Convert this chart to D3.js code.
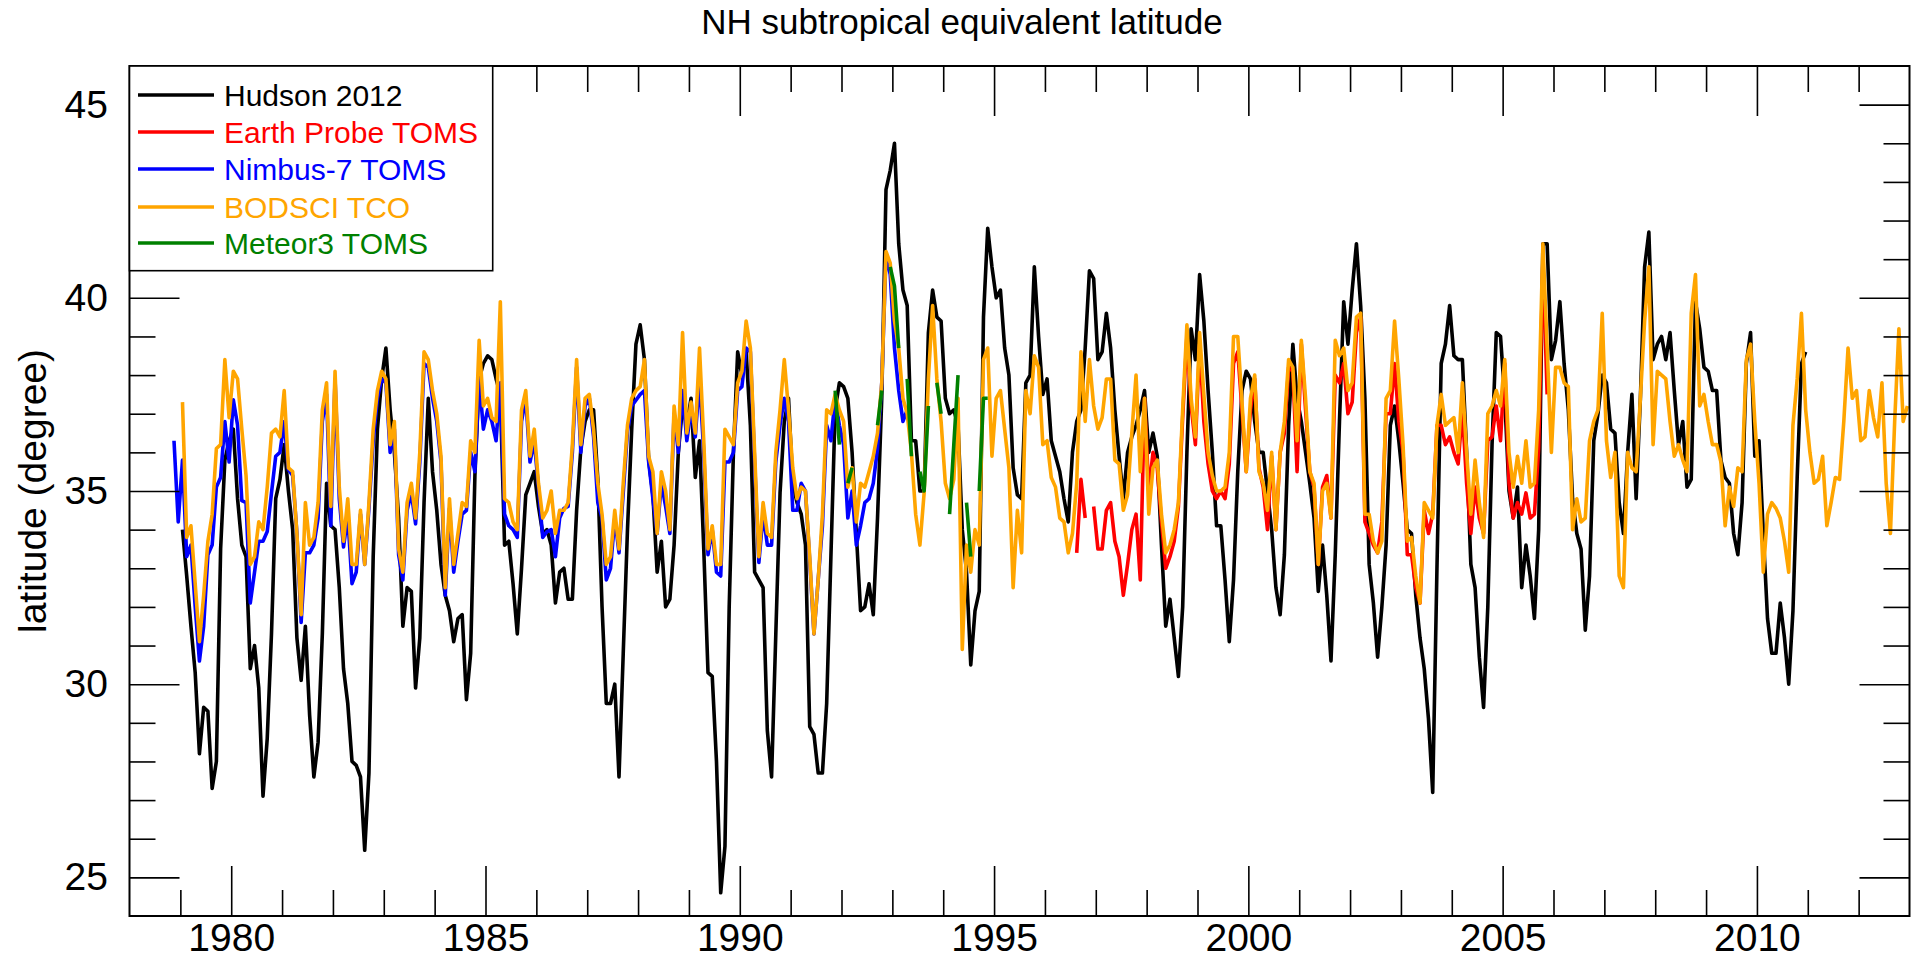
<!DOCTYPE html>
<html>
<head>
<meta charset="utf-8">
<script src="https://cdn.jsdelivr.net/npm/d3@7"></script>
<style>
html,body{margin:0;padding:0;background:#fff;}
svg{display:block;}
</style>
</head>
<body>
<svg id="chart" width="1914" height="961"></svg>
<script>
// ---------------- DATA ----------------
const titleText = "NH subtropical equivalent latitude";
const yAxisLabel = "latitude (degree)";
const xMajorTicks = [1980, 1985, 1990, 1995, 2000, 2005, 2010];
const xMinorTicks = [1979,1981,1982,1983,1984,1986,1987,1988,1989,1991,1992,1993,1994,1996,1997,1998,1999,2001,2002,2003,2004,2006,2007,2008,2009,2011,2012];
const yMajorTicks = [25, 30, 35, 40, 45];
const yMinorTicks = [26,27,28,29,31,32,33,34,36,37,38,39,41,42,43,44];
const seriesNames = ["Hudson 2012", "Earth Probe TOMS", "Nimbus-7 TOMS", "BODSCI TCO", "Meteor3 TOMS"];
const seriesColors = ["#000000", "#ff0000", "#0000ff", "#ffa500", "#008000"];

// Hudson 2012, monthly from Jan 1979
const hudsonStart = [1979, 1];
const hudson = [
34.0,32.8,31.5,30.3,28.2,29.4,29.3,27.3,28.0,33.5,35.8,36.3,
36.6,34.8,33.6,33.3,30.4,31.0,29.9,27.1,28.6,31.3,34.8,35.3,
36.2,35.0,34.0,31.2,30.1,31.5,29.2,27.6,28.5,31.3,35.2,34.1,
34.0,32.5,30.4,29.5,28.0,27.9,27.6,25.7,27.7,33.3,36.6,37.9,
38.7,37.1,36.0,34.3,31.5,32.5,32.4,29.9,31.2,34.7,37.4,35.5,
34.5,33.1,32.3,31.9,31.1,31.7,31.8,29.6,30.8,35.4,37.9,38.3,
38.5,38.4,37.9,37.5,33.6,33.7,32.6,31.3,33.0,34.9,35.2,35.5,
34.6,33.9,34.0,33.6,32.1,32.9,33.0,32.2,32.2,34.5,36.1,36.8,
37.1,37.1,35.3,32.0,29.5,29.5,30.0,27.6,30.8,34.0,36.6,38.8,
39.3,38.4,35.8,34.9,32.9,33.7,32.0,32.2,33.6,36.0,37.2,36.7,
37.4,35.35,36.3,33.5,30.3,30.2,28.0,24.6,25.8,32.0,36.0,38.6,
38.0,38.6,36.7,32.9,32.7,32.5,28.8,27.6,31.3,34.95,36.8,37.4,
35.2,34.7,34.4,33.6,28.9,28.7,27.7,27.7,29.5,33.3,37.1,37.8,
37.7,37.4,36.0,33.9,31.9,32.0,32.6,31.8,34.3,37.4,42.8,43.3,
44.0,41.4,40.2,39.8,36.3,36.3,35.0,35.0,39.1,40.2,39.5,39.4,
37.4,37.0,37.1,36.7,34.0,32.9,30.5,31.9,32.4,39.5,41.8,40.8,
40.0,40.2,38.7,38.0,35.6,34.9,34.8,37.8,38.0,40.8,39.0,37.5,
37.9,36.3,35.9,35.5,34.8,34.2,36.0,36.8,37.1,38.7,40.7,40.5,
38.4,38.6,39.6,38.7,37.1,35.9,34.8,36.0,36.4,36.7,37.1,37.6,
36.0,36.5,35.9,33.6,31.5,32.2,31.2,30.2,32.0,36.0,39.2,38.4,
40.6,39.4,37.6,36.0,34.1,34.1,32.7,31.1,32.7,35.5,37.6,38.1,
37.9,36.8,36.0,36.0,35.0,34.0,32.5,31.8,33.35,36.7,38.8,37.4,
36.8,36.0,35.2,34.3,32.4,33.6,32.3,30.6,33.35,36.8,39.9,38.8,
40.2,41.4,39.8,37.4,33.1,32.1,30.7,32.0,33.6,36.7,37.2,36.3,
35.2,34.0,33.9,32.3,31.2,30.4,29.1,27.2,33.0,38.3,38.8,39.8,
38.5,38.4,38.4,36.0,33.1,32.5,30.7,29.4,32.0,36.2,39.1,39.0,
37.4,35.0,34.3,35.1,32.5,33.6,32.8,31.7,34.0,41.4,41.4,38.4,
38.9,39.9,38.3,37.1,34.8,33.9,33.5,31.4,32.8,36.3,37.0,38.0,
37.8,36.6,36.5,34.7,33.9,36.0,37.5,34.8,37.4,40.8,41.7,38.4,
38.8,39.0,38.4,39.1,37.6,36.2,36.8,35.1,35.3,39.9,39.2,38.2,
38.1,37.6,37.6,35.8,35.35,35.2,33.9,33.35,34.7,38.3,39.1,35.9,
36.3,33.9,31.7,30.8,30.8,32.1,31.2,30.0,31.9,35.35,38.3,38.6
];

// Earth Probe TOMS, monthly from Aug 1996 (null = gap)
const earthProbeStart = [1996, 8];
const earthProbe = [
33.4,35.3,34.3,null,34.6,
33.5,33.5,34.5,34.7,33.7,33.3,32.3,33.1,34.0,34.4,32.7,37.4,
35.0,36.0,35.6,34.2,33.0,33.3,33.7,34.6,36.9,39.0,37.2,36.2,
38.8,36.8,35.7,35.0,34.8,35.0,34.8,35.7,38.3,38.6,37.1,35.5,
37.1,37.9,35.6,35.1,34.0,35.9,34.0,36.0,36.5,38.2,38.1,35.5,
38.8,37.1,35.5,35.1,33.1,35.1,35.4,34.3,38.0,37.8,38.3,37.0,
37.3,39.1,39.5,34.2,33.9,33.6,33.4,34.2,37.0,37.0,38.3,36.8,
36.0,33.35,33.35,32.5,32.1,34.5,33.9,34.4,36.7,36.7,36.2,36.4,
36.0,35.7,37.1,35.2,33.9,35.1,34.3,33.9,36.3,36.4,37.2,36.3,
38.3,35.2,34.3,34.7,34.4,34.95,34.3,34.4,36.1,41.0,37.5
];

// Nimbus-7 TOMS, monthly from Nov 1978
const nimbusStart = [1978, 11];
const nimbus = [
36.3,34.2,
35.8,33.3,33.6,32.0,30.6,31.5,33.35,33.6,35.1,35.35,36.8,35.75,
37.36,36.7,34.75,34.7,32.1,32.9,33.7,33.7,33.95,34.95,35.9,36.0,
36.8,35.55,35.4,33.9,31.6,33.4,33.4,33.6,34.3,36.8,37.5,34.1,
37.9,34.8,33.55,34.35,32.6,32.9,34.4,33.1,34.55,36.3,37.4,37.9,
37.8,36.0,36.6,33.35,32.7,34.5,34.95,34.15,35.75,38.3,38.2,37.4,
36.8,35.75,32.3,34.55,32.9,33.7,34.4,34.5,36.0,35.5,37.9,36.6,
37.1,36.8,36.3,37.8,34.4,34.1,34.0,33.8,36.8,37.4,35.75,36.3,
35.1,33.8,33.95,34.0,33.3,34.3,34.55,34.6,36.0,38.2,36.0,37.2,
37.4,36.4,34.7,34.3,32.7,33.0,34.3,33.4,34.95,36.55,37.2,37.35,
37.5,37.6,35.75,34.8,33.9,35.2,34.6,33.9,37.0,36.0,37.6,36.3,
37.1,36.4,37.9,36.0,33.35,34.0,32.9,32.8,35.75,35.75,36.0,37.6,
37.7,38.7,38.6,35.75,33.15,34.4,33.6,33.6,35.75,36.7,37.4,36.8,
34.5,34.5,35.2,35.0,33.2,31.3,32.7,34.1,36.7,36.3,37.4,36.7,
36.2,34.3,35.0,33.6,34.1,34.7,34.8,35.2,36.1,37.8,41.1,40.6,
38.7,37.6,36.8,37.1
];

// BODSCI TCO, monthly from Jan 1979
const bodsciStart = [1979, 1];
const bodsci = [
37.3,33.8,34.1,32.6,31.1,32.3,33.7,34.4,36.1,36.2,38.4,36.9,
38.1,37.9,36.6,35.4,33.1,33.3,34.2,34.0,35.1,36.5,36.6,36.4,
37.6,35.6,35.5,33.9,31.8,34.7,33.6,33.8,34.7,37.1,37.8,34.6,
38.1,35.1,33.7,34.8,33.1,33.1,34.5,33.1,34.7,36.6,37.6,38.1,
37.9,36.2,36.8,33.5,32.9,34.7,35.2,34.3,36.0,38.6,38.4,37.6,
37.0,35.9,32.5,34.8,33.1,33.9,34.7,34.6,36.3,36.0,38.9,37.2,
37.4,36.9,36.8,39.9,34.8,34.7,34.2,34.0,37.1,37.6,35.9,36.6,
35.2,34.3,34.5,35.0,33.9,34.5,34.5,34.7,36.2,38.4,36.2,37.4,
37.5,36.6,35.2,34.4,33.1,33.3,34.5,33.5,35.2,36.7,37.4,37.6,
37.7,38.4,35.9,35.5,33.9,35.5,35.0,34.0,37.2,36.2,39.1,36.5,
37.3,36.5,38.7,36.3,33.5,34.1,33.1,33.1,36.6,36.4,36.2,37.8,
38.1,39.4,38.7,36.0,33.3,34.7,33.9,33.8,36.0,37.1,38.4,37.1,
35.6,34.8,35.1,35.0,33.3,31.3,32.7,34.4,37.1,37.0,37.5,37.1,
36.8,35.1,35.6,34.2,35.2,35.1,35.5,35.9,36.5,37.8,41.2,40.9,
39.4,38.7,37.4,37.0,36.0,34.4,33.6,34.95,37.9,39.8,37.9,36.8,
35.2,34.8,35.3,37.4,30.9,33.6,32.9,34.0,33.6,38.4,38.7,35.9,
37.4,37.6,36.6,35.6,32.5,34.5,33.4,37.6,37.0,38.5,38.2,36.2,
36.3,35.35,35.1,34.3,34.2,33.4,33.9,35.2,38.6,36.8,38.4,37.2,
36.6,36.9,37.9,37.9,35.8,35.7,34.5,34.9,36.5,38.0,35.5,37.4,
34.4,35.6,35.8,34.4,33.4,33.6,34.0,34.7,37.1,39.3,37.4,36.4,
39.1,37.5,36.0,35.4,35.0,35.0,35.1,36.0,39.0,39.0,37.3,35.5,
37.4,38.0,35.5,35.2,34.5,36.0,34.0,36.0,36.8,38.4,38.2,36.3,
38.9,37.4,35.5,35.2,33.1,35.0,35.2,34.3,38.9,38.5,38.7,37.6,
37.8,39.5,39.6,34.4,34.4,33.7,33.4,33.7,37.4,37.6,39.4,37.9,
36.2,33.7,33.8,32.8,32.1,34.7,34.5,34.3,36.7,37.5,36.7,36.8,
36.9,36.0,37.8,36.0,34.4,35.8,34.7,33.8,37.0,37.2,37.6,37.2,
38.4,36.0,35.1,35.9,35.2,36.3,35.1,35.2,37.1,41.4,38.7,36.0,
38.2,38.2,37.8,37.7,34.0,34.8,34.2,34.3,36.3,36.8,37.1,39.6,
36.3,35.35,36.0,32.8,32.5,36.0,35.6,35.5,37.4,39.4,40.8,36.2,
38.1,38.0,37.9,36.8,35.9,36.2,35.8,35.5,39.6,40.6,37.2,37.5,
36.8,36.2,36.2,35.75,34.1,35.1,34.6,35.6,35.5,38.4,38.8,36.8,
35.2,32.9,34.4,34.7,34.55,34.3,33.7,32.9,36.7,37.9,39.6,37.1,
36.0,35.2,35.3,35.9,34.1,34.7,35.35,35.3,36.8,38.7,37.4,37.6,
36.3,36.4,37.6,36.9,36.4,37.8,35.2,33.9,36.8,39.2,36.8,37.2
];

// Meteor3 TOMS, monthly from Nov 1991 (null = no data)
const meteorStart = [1991, 11];
const meteor = [
37.6,36.2,
null,35.2,35.6,null,null,null,null,null,36.7,37.6,null,40.8,
40.3,38.7,null,37.9,35.9,null,35.5,35.0,37.2,null,37.8,37.0,
null,34.4,36.2,38.0,null,34.7,33.3,null,35.0,37.4,37.4
];

// ---------------- CHART ----------------
const frame = {left: 129.5, right: 1909.5, top: 66, bottom: 916};
const FONT = "'Liberation Sans', Arial, Helvetica, sans-serif";

const svg = d3.select("#chart");
const x = d3.scaleLinear().domain([1978, 2013]).range([frame.left, frame.right]);
const y = d3.scaleLinear().domain([24, 46]).range([frame.bottom, frame.top]);

function monthly(start, values) {
  return values.map((v, i) => ({t: start[0] + (start[1] - 1 + i + 0.5) / 12, v: v}));
}

const series = [
  {data: monthly(hudsonStart, hudson), color: seriesColors[0]},
  {data: monthly(earthProbeStart, earthProbe), color: seriesColors[1]},
  {data: monthly(nimbusStart, nimbus), color: seriesColors[2]},
  {data: monthly(bodsciStart, bodsci), color: seriesColors[3]},
  {data: monthly(meteorStart, meteor), color: seriesColors[4]}
];

svg.append("clipPath").attr("id", "clip").append("rect")
  .attr("x", frame.left).attr("y", frame.top)
  .attr("width", frame.right - frame.left).attr("height", frame.bottom - frame.top);

const line = d3.line()
  .defined(d => d.v !== null)
  .x(d => x(d.t)).y(d => y(d.v));

const plot = svg.append("g").attr("clip-path", "url(#clip)");
series.forEach(s => {
  plot.append("path")
    .datum(s.data)
    .attr("fill", "none")
    .attr("stroke", s.color)
    .attr("stroke-width", 3.6)
    .attr("stroke-linejoin", "round")
    .attr("d", line);
});

// axes (inward ticks)
function styleAxis(g) {
  g.select(".domain").remove();
  g.selectAll(".tick line").attr("stroke", "#000").attr("stroke-width", 1.6);
  g.selectAll("text").attr("font-family", FONT).attr("font-size", 39).attr("fill", "#000");
}

svg.append("g").attr("transform", `translate(0,${frame.bottom})`)
  .call(d3.axisBottom(x).tickValues(xMajorTicks).tickSizeInner(-50).tickSizeOuter(0)
    .tickPadding(7).tickFormat(d3.format("d"))).call(styleAxis);
svg.append("g").attr("transform", `translate(0,${frame.bottom})`)
  .call(d3.axisBottom(x).tickValues(xMinorTicks).tickSizeInner(-26).tickSizeOuter(0)
    .tickFormat("")).call(styleAxis);
svg.append("g").attr("transform", `translate(0,${frame.top})`)
  .call(d3.axisTop(x).tickValues(xMajorTicks).tickSizeInner(-50).tickSizeOuter(0)
    .tickFormat("")).call(styleAxis);
svg.append("g").attr("transform", `translate(0,${frame.top})`)
  .call(d3.axisTop(x).tickValues(xMinorTicks).tickSizeInner(-26).tickSizeOuter(0)
    .tickFormat("")).call(styleAxis);

svg.append("g").attr("transform", `translate(${frame.left},0)`)
  .call(d3.axisLeft(y).tickValues(yMajorTicks).tickSizeInner(-50).tickSizeOuter(0)
    .tickPadding(21.5).tickFormat(d3.format("d"))).call(styleAxis);
svg.append("g").attr("transform", `translate(${frame.left},0)`)
  .call(d3.axisLeft(y).tickValues(yMinorTicks).tickSizeInner(-26).tickSizeOuter(0)
    .tickFormat("")).call(styleAxis);
svg.append("g").attr("transform", `translate(${frame.right},0)`)
  .call(d3.axisRight(y).tickValues(yMajorTicks).tickSizeInner(-50).tickSizeOuter(0)
    .tickFormat("")).call(styleAxis);
svg.append("g").attr("transform", `translate(${frame.right},0)`)
  .call(d3.axisRight(y).tickValues(yMinorTicks).tickSizeInner(-26).tickSizeOuter(0)
    .tickFormat("")).call(styleAxis);

// frame
svg.append("rect")
  .attr("x", frame.left).attr("y", frame.top)
  .attr("width", frame.right - frame.left).attr("height", frame.bottom - frame.top)
  .attr("fill", "none").attr("stroke", "#000").attr("stroke-width", 2);

// title
svg.append("text")
  .attr("x", 962).attr("y", 34)
  .attr("text-anchor", "middle")
  .attr("font-family", FONT).attr("font-size", 35).attr("fill", "#000")
  .text(titleText);

// y label
svg.append("text")
  .attr("transform", `translate(46,${(frame.top + frame.bottom) / 2}) rotate(-90)`)
  .attr("text-anchor", "middle")
  .attr("font-family", FONT).attr("font-size", 39).attr("fill", "#000")
  .text(yAxisLabel);

// legend
const legend = svg.append("g");
legend.append("rect")
  .attr("x", frame.left).attr("y", frame.top)
  .attr("width", 492.7 - frame.left).attr("height", 270.7 - frame.top)
  .attr("fill", "#fff").attr("stroke", "#000").attr("stroke-width", 1.6);
const legendY = [95, 132, 169, 207, 243];
seriesNames.forEach((name, i) => {
  legend.append("line")
    .attr("x1", 138).attr("x2", 214)
    .attr("y1", legendY[i]).attr("y2", legendY[i])
    .attr("stroke", seriesColors[i]).attr("stroke-width", 3.6);
  legend.append("text")
    .attr("x", 224).attr("y", legendY[i] + 11)
    .attr("font-family", FONT).attr("font-size", 30)
    .attr("fill", seriesColors[i])
    .text(name);
});
</script>
</body>
</html>
